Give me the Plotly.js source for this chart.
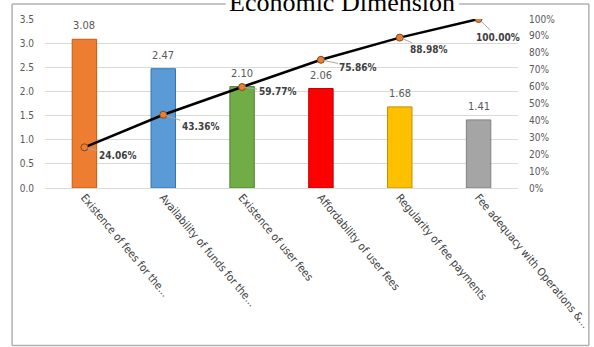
<!DOCTYPE html>
<html>
<head>
<meta charset="utf-8">
<script src="https://cdn.plot.ly/plotly-3.0.1.min.js"></script>
<style>
  html, body { margin: 0; padding: 0; background: #fff; }
  #chart { width: 594px; height: 347px; }
</style>
</head>
<body>
<div id="chart"></div>
<script>
// Pareto view of the economic-dimension indicators
const categories = [
  "Existence of fees for the...",
  "Availability of funds for the...",
  "Existence of user fees",
  "Affordability of user fees",
  "Regularity of fee payments",
  "Fee adequacy with Operations &..."
];
const scores = [3.08, 2.47, 2.10, 2.06, 1.68, 1.41];
const cumulativeShare = [0.2406, 0.4336, 0.5977, 0.7586, 0.8898, 1.0000];
const barColors = ["#ED7D31", "#5B9BD5", "#70AD47", "#FF0000", "#FFC000", "#A5A5A5"];
const barEdges  = ["#C55A11", "#2E75B6", "#548235", "#C00000", "#BF9000", "#7F7F7F"];

// label offsets (px) for the cumulative-percentage callouts
const calloutDx = [33, 37, 35, 37, 29, 19];
const calloutDy = [8, 12, 5, 8, 12, 18];

const narrow = "'Liberation Sans Narrow', 'Arial Narrow', 'DejaVu Sans Condensed', 'Liberation Sans', sans-serif";

const bars = {
  type: "bar",
  x: categories,
  y: scores,
  width: 0.31,
  marker: { color: barColors, line: { color: barEdges, width: 1 } },
  hoverinfo: "skip"
};

const cumLine = {
  type: "scatter",
  mode: "lines+markers",
  x: categories,
  y: cumulativeShare,
  yaxis: "y2",
  line: { color: "#000000", width: 2.5 },
  marker: { color: "#ED7D31", size: 7, line: { color: "#7F4A1E", width: 1 } },
  hoverinfo: "skip"
};

const annotations = [];

// value labels above each bar
scores.forEach((v, i) => {
  annotations.push({
    x: categories[i], y: v, xref: "x", yref: "y",
    text: v.toFixed(2), showarrow: false,
    yanchor: "bottom", yshift: 5,
    font: { family: narrow, size: 11, color: "#595959" }
  });
});

// cumulative percentage callouts with leader lines
cumulativeShare.forEach((p, i) => {
  annotations.push({
    x: categories[i], y: p, xref: "x", yref: "y2",
    text: (p * 100).toFixed(2) + "%",
    showarrow: true, arrowhead: 0, arrowwidth: 1, arrowcolor: "#A6A6A6",
    standoff: 3, ax: calloutDx[i], ay: calloutDy[i],
    font: { family: narrow, size: 10, color: "#404040", weight: "bold" }
  });
});

// chart title
annotations.push({
  x: 0.6287, y: 1.0947, xref: "paper", yref: "paper",
  xanchor: "center", yanchor: "middle",
  text: "Economic Dimension", showarrow: false,
  font: { family: "'Liberation Serif', 'Times New Roman', serif", size: 26, color: "#000000" }
});

// frame around the chart, broken where the title sits
const frame = { color: "#B0B0B0", width: 1.5 };
const L = -0.0696, R = 1.1498, T = 1.0888, B = -0.9320;
const shapes = [
  { type: "line", xref: "paper", yref: "paper", x0: L, x1: L, y0: B, y1: T, line: frame },
  { type: "line", xref: "paper", yref: "paper", x0: R, x1: R, y0: B, y1: T, line: frame },
  { type: "line", xref: "paper", yref: "paper", x0: L, x1: R, y0: B, y1: B, line: frame },
  { type: "line", xref: "paper", yref: "paper", x0: L, x1: 0.3819, y0: T, y1: T, line: frame },
  { type: "line", xref: "paper", yref: "paper", x0: 0.8755, x1: R, y0: T, y1: T, line: frame }
];

const layout = {
  width: 594, height: 347,
  margin: { l: 45, r: 76, t: 19, b: 159 },
  paper_bgcolor: "#FFFFFF",
  plot_bgcolor: "#FFFFFF",
  showlegend: false,
  xaxis: {
    type: "category",
    range: [-0.5, 5.5],
    showgrid: false, showline: false, zeroline: false,
    ticks: "", tickangle: 50,
    tickfont: { family: narrow, size: 11, color: "#404040" }
  },
  yaxis: {
    range: [0, 3.5], dtick: 0.5, tickformat: ".1f",
    showgrid: true, gridcolor: "#D9D9D9", gridwidth: 1,
    zeroline: true, zerolinecolor: "#D9D9D9", zerolinewidth: 1,
    showline: false, ticks: "", ticklabelstandoff: 10,
    tickfont: { family: narrow, size: 10, color: "#595959" }
  },
  yaxis2: {
    overlaying: "y", side: "right",
    range: [0, 1.0], dtick: 0.1, tickformat: ".0%",
    showgrid: false, zeroline: false, showline: false,
    ticks: "", ticklabelstandoff: 10,
    tickfont: { family: narrow, size: 10, color: "#595959" }
  },
  annotations: annotations,
  shapes: shapes
};

Plotly.newPlot("chart", [bars, cumLine], layout, { staticPlot: true, displayModeBar: false });
</script>
</body>
</html>
